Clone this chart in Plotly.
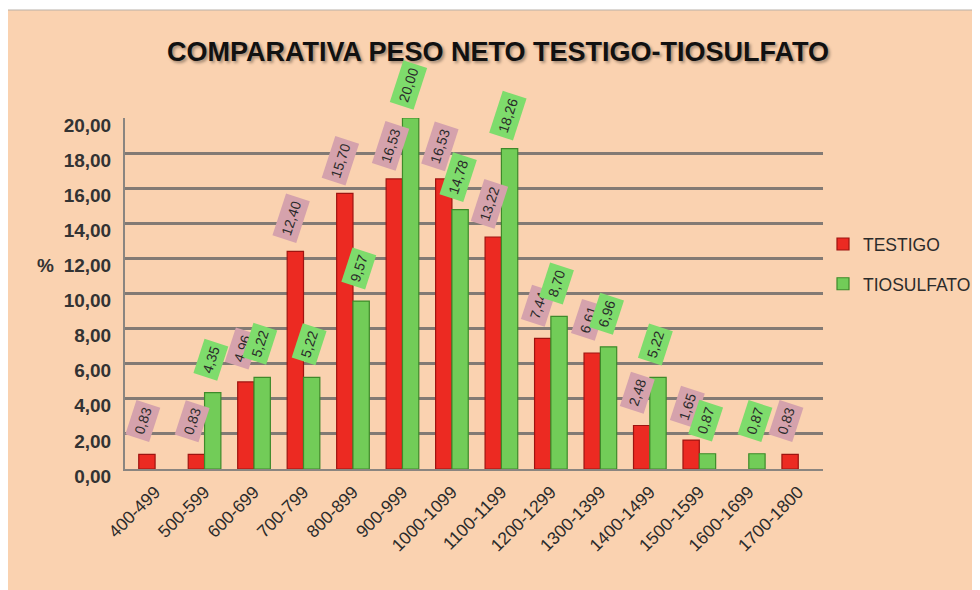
import plotly.graph_objects as go

categories = ["400-499", "500-599", "600-699", "700-799", "800-899", "900-999",
              "1000-1099", "1100-1199", "1200-1299", "1300-1399", "1400-1499",
              "1500-1599", "1600-1699", "1700-1800"]
testigo = [0.83, 0.83, 4.96, 12.40, 15.70, 16.53, 16.53, 13.22, 7.44, 6.61, 2.48, 1.65, None, 0.83]
tiosulfato = [None, 4.35, 5.22, 5.22, 9.57, 20.00, 14.78, 18.26, 8.70, 6.96, 5.22, 0.87, 0.87, None]
y_ticks = [0, 2, 4, 6, 8, 10, 12, 14, 16, 18, 20]

RED = "#EC2A22"
GREEN = "#72CC58"
PEACH = "#FAD2B0"

L, T, B = 117, 110, 129
PW, PH = 700, 590 - T - B

fig = go.Figure()
fig.add_trace(go.Bar(x=categories, y=testigo, name="TESTIGO", legendgroup="a",
                     marker=dict(color=RED, line=dict(color="#9E1410", width=1.2))))
fig.add_trace(go.Bar(x=categories, y=tiosulfato, name="TIOSULFATO", legendgroup="b",
                     marker=dict(color=GREEN, line=dict(color="#3E8A2A", width=1.2))))

annotations = []
def fmt(v):
    return f"{v:.2f}".replace(".", ",")

for series, shift, bg in ((testigo, -12, "#D5A2AC"), (tiosulfato, 6, "#7EDC6C")):
    for c, v in zip(categories, series):
        if v is None:
            continue
        annotations.append(dict(
            x=c, y=v, xref="x", yref="y", text=fmt(v), showarrow=False,
            textangle=-72, xshift=shift, yshift=33, yanchor="middle",
            bgcolor=bg, borderpad=4,
            font=dict(family="Liberation Sans", size=14, color="#2a2a2a")))

annotations.append(dict(x=(27 - L) / PW, y=12, xref="paper", yref="y", yshift=-7,
                        text="%", showarrow=False,
                        font=dict(family="Liberation Sans", size=19, color="#333333", weight="bold")))

fig.update_layout(
    width=980, height=590,
    paper_bgcolor="white", plot_bgcolor="rgba(0,0,0,0)",
    margin=dict(l=L, r=980 - L - PW, t=T, b=B),
    barmode="group", bargap=0.34, bargroupgap=0.0,
    separators=",.",
    title=dict(text="COMPARATIVA PESO NETO TESTIGO-TIOSULFATO",
               x=0.5, xref="container", xanchor="center",
               y=1 - 44 / 590, yref="container", yanchor="middle",
               font=dict(family="Liberation Sans", size=27,
                         color="#111111", weight="bold",
                         shadow="2px 2px 3px rgba(0,0,0,0.35)")),
    xaxis=dict(tickangle=-45, showgrid=False, showline=True, linecolor="#8a8580", linewidth=2,
               ticks="", automargin=False, ticklabelstandoff=4,
               tickfont=dict(family="Liberation Sans", size=17.5, color="#2b2b2b")),
    yaxis=dict(range=[0, 20], tickvals=y_ticks, tickformat=".2f", automargin=False,
               showgrid=True, gridcolor="#827a74", gridwidth=2.5,
               showline=True, linecolor="#8a8580", linewidth=2, zeroline=False,
               ticks="", ticklabelstandoff=8, ticklabelshift=7,
               tickfont=dict(family="Liberation Sans", size=19, color="#333333", weight="bold")),
    legend=dict(x=1.0, y=0.692, xanchor="left", yanchor="top", bgcolor="rgba(0,0,0,0)",
                traceorder="grouped", tracegroupgap=14,
                font=dict(family="Liberation Sans", size=17.5, color="#2b2b2b")),
    annotations=annotations,
    shapes=[dict(type="rect", xref="paper", yref="paper", layer="below",
                 x0=(-3 - L) / PW, x1=(990 - L) / PW,
                 y0=-1.5, y1=(PH + T - 2) / PH,
                 fillcolor=PEACH, line=dict(color="#b8b0a8", width=1))],
)

fig.write_html("out.html")
